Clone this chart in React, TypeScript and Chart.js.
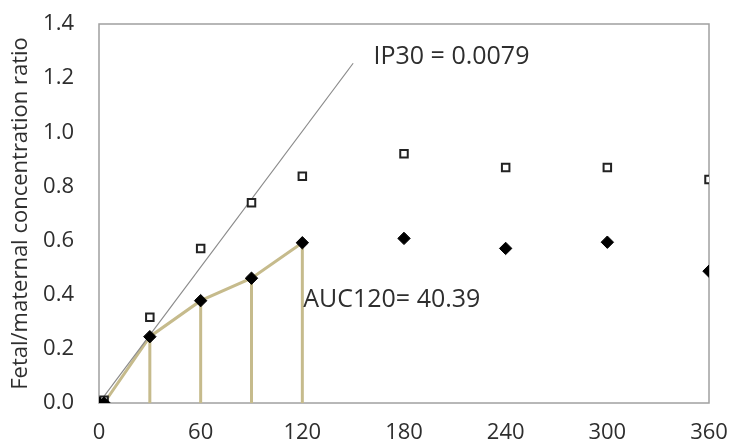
import React, { useEffect, useRef } from "react";
import { Chart, registerables } from "chart.js";

Chart.register(...registerables);

// ---- data ----
const TIMES = [0, 3, 30, 60, 90, 120, 180, 240, 300, 360];
const OPEN_SQUARES = [0, 0.01, 0.317, 0.571, 0.74, 0.838, 0.921, 0.87, 0.87, 0.826];
const FILLED_DIAMONDS = [0, 0, 0.245, 0.378, 0.461, 0.592, 0.608, 0.571, 0.594, 0.487];
const AUC_TIMES = [0, 3, 30, 60, 90, 120];
const DROP_TIMES = [30, 60, 90, 120];
const IP30_LINE_X = [0, 150];
const IP30_LINE_Y = [0, 1.255];
const X_TICKS = [0, 60, 120, 180, 240, 300, 360];
const Y_TITLE = "Fetal/maternal concentration ratio";
const LABEL_TEXTS = ["IP30 = 0.0079", "AUC120= 40.39"];
const LABEL_X = [162, 120.5];
const LABEL_Y = [1.278, 0.38];

const FONT = "'Open Sans', 'DejaVu Sans', sans-serif";
const TEXT_COLOR = "#2e2e2e";

function valueAt(t: number): number {
  const i = TIMES.indexOf(t);
  return FILLED_DIAMONDS[i];
}

export default function App() {
  const ref = useRef<HTMLCanvasElement | null>(null);

  useEffect(() => {
    if (!ref.current) return;

    const aucData = AUC_TIMES.map((t) => ({ x: t, y: valueAt(t) }));
    const dropData: { x: number; y: number | null }[] = [];
    DROP_TIMES.forEach((t) => {
      dropData.push({ x: t, y: 0 });
      dropData.push({ x: t, y: valueAt(t) });
      dropData.push({ x: t, y: null });
    });

    const frame = {
      id: "frameAndLabels",
      beforeDatasetsDraw(chart: any) {
        const { ctx, chartArea } = chart;
        ctx.save();
        ctx.strokeStyle = "#a0a0a0";
        ctx.lineWidth = 1.5;
        ctx.strokeRect(chartArea.left, chartArea.top, chartArea.right - chartArea.left, chartArea.bottom - chartArea.top);
        ctx.restore();
      },
      afterDraw(chart: any) {
        const { ctx, scales } = chart;
        ctx.save();
        ctx.fillStyle = TEXT_COLOR;
        ctx.font = `25px ${FONT}`;
        ctx.textAlign = "left";
        ctx.textBaseline = "middle";
        LABEL_TEXTS.forEach((txt, i) => {
          ctx.fillText(txt, scales.x.getPixelForValue(LABEL_X[i]), scales.y.getPixelForValue(LABEL_Y[i]));
        });
        ctx.restore();
      },
    };

    const chart = new Chart(ref.current, {
      type: "scatter",
      data: {
        datasets: [
          {
            label: "Fetal (filled)",
            data: TIMES.map((t, i) => ({ x: t, y: FILLED_DIAMONDS[i] })),
            pointStyle: "rectRot",
            pointRadius: 6.2,
            backgroundColor: "#000000",
            borderColor: "#000000",
            borderWidth: 1,
            showLine: false,
            order: 0,
          },
          {
            label: "Open squares",
            data: TIMES.map((t, i) => ({ x: t, y: OPEN_SQUARES[i] })),
            pointStyle: "rect",
            pointRadius: 5.3,
            backgroundColor: "#ffffff",
            borderColor: "#222222",
            borderWidth: 2,
            showLine: false,
            order: 1,
          },
          {
            label: "IP30",
            data: IP30_LINE_X.map((x, i) => ({ x, y: IP30_LINE_Y[i] })),
            showLine: true,
            borderColor: "#8a8a8a",
            borderWidth: 1.2,
            pointRadius: 0,
            order: 2,
          },
          {
            label: "AUC120",
            data: aucData,
            showLine: true,
            borderColor: "#c6bb8c",
            borderWidth: 3,
            pointRadius: 0,
            order: 3,
          },
          {
            label: "AUC drops",
            data: dropData as any,
            showLine: true,
            spanGaps: false,
            borderColor: "#c6bb8c",
            borderWidth: 3,
            pointRadius: 0,
            order: 4,
          },
        ],
      },
      options: {
        responsive: false,
        animation: false,
        events: [],
        layout: { padding: { top: 24, right: 21, left: 0, bottom: 0 } },
        plugins: { legend: { display: false }, tooltip: { enabled: false } },
        scales: {
          x: {
            type: "linear",
            min: 0,
            max: 360,
            afterBuildTicks: (scale: any) => {
              scale.ticks = X_TICKS.map((v) => ({ value: v }));
            },
            afterFit: (scale: any) => {
              scale.height = 36;
              scale.paddingLeft = 0;
              scale.paddingRight = 0;
            },
            grid: { display: false },
            border: { display: false },
            ticks: {
              color: TEXT_COLOR,
              font: { family: FONT, size: 22 },
              padding: 9,
              maxRotation: 0,
            },
          },
          y: {
            min: 0,
            max: 1.4,
            afterFit: (scale: any) => {
              scale.width = 99;
              scale.paddingTop = 0;
              scale.paddingBottom = 0;
            },
            grid: { display: false },
            border: { display: false },
            title: {
              display: true,
              text: Y_TITLE,
              color: TEXT_COLOR,
              font: { family: FONT, size: 22 },
              padding: { top: 8, bottom: 0 },
            },
            ticks: {
              stepSize: 0.2,
              color: TEXT_COLOR,
              font: { family: FONT, size: 22 },
              padding: 17,
              callback: (v: any) => Number(v).toFixed(1),
            },
          },
        },
      },
      plugins: [frame],
    });

    return () => chart.destroy();
  }, []);

  return (
    <div style={{ position: "absolute", left: 0, top: 0, width: 730, height: 439, background: "#fff" }}>
      <canvas ref={ref} width={730} height={439} />
    </div>
  );
}
